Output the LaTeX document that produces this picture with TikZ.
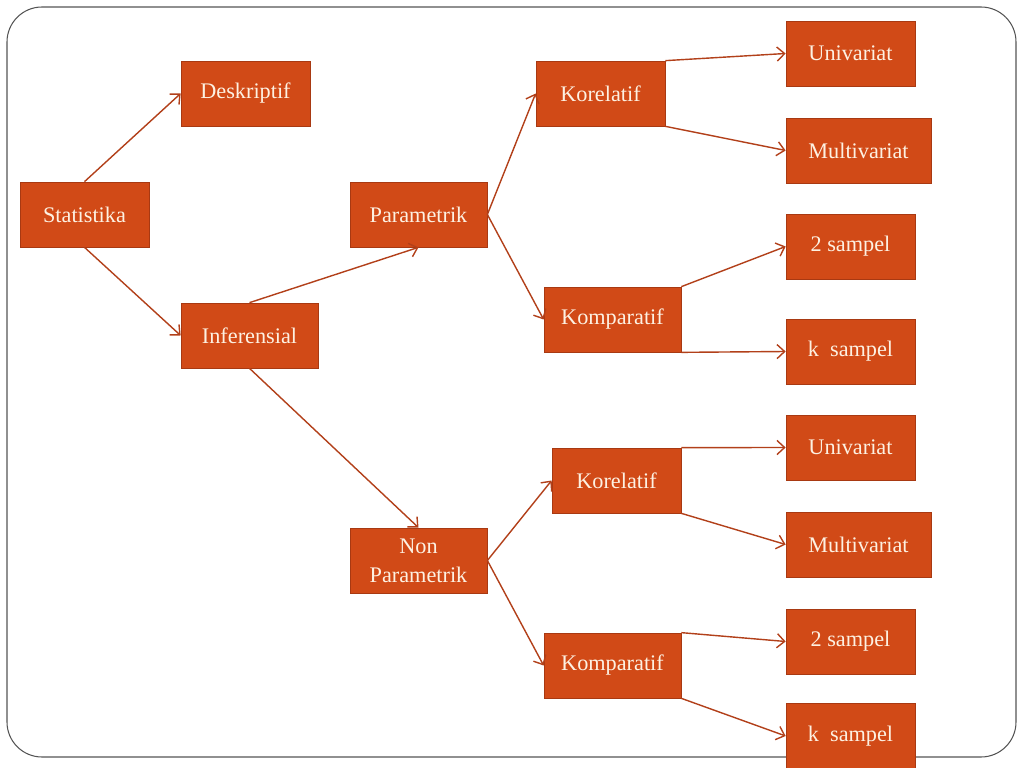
\documentclass[tikz,border=0pt]{standalone}
\usepackage{fontspec}
\setmainfont{Liberation Serif}
\usetikzlibrary{arrows.meta}
\definecolor{boxfill}{RGB}{209,74,23}
\definecolor{boxline}{RGB}{168,57,18}
\definecolor{arrline}{RGB}{178,64,26}
\definecolor{boxtext}{RGB}{253,241,226}
\definecolor{framegray}{RGB}{85,85,85}

\begin{document}
\begin{tikzpicture}[x=0.03cm, y=-0.03cm,
        catbox/.style={rectangle, draw=boxline, fill=boxfill, line width=0.6pt,
                       text=boxtext, minimum width=3.87cm, minimum height=1.95cm,
                       inner sep=0pt, align=center, font=\fontsize{19}{25}\selectfont},
        widebox/.style={minimum width=4.11cm},
        widerbox/.style={minimum width=4.35cm},
        arr/.style={-{Straight Barb[length=6.5pt,width=12pt]}, line width=1.2pt, arrline}
      ]
        \useasboundingbox (0,0) rectangle (1024,768);
        % slide frame
        \draw[framegray, line width=0.9pt, rounded corners=1.05cm] (7,7) rectangle (1016,757);

        % first level
        \node[catbox]           (stat) at (84.5,214.5)  {Statistika};
        \node[catbox]           (desk) at (245.5,93.5)  {Deskriptif};
        \node[catbox, widebox]  (inf)  at (249.5,335.5) {Inferensial};
        \node[catbox, widebox]  (par)  at (418.5,214.5) {Parametrik};
        \node[catbox, widebox]  (npar) at (418.5,560.5) {Non\\Parametrik};

        \draw[arr] (stat.north) -- (desk.west);
        \draw[arr] (stat.south) -- (inf.west);
        \draw[arr] (inf.north)  -- (par.south);
        \draw[arr] (inf.south)  -- (npar.north);

        % parametrik branch
        \node[catbox]           (kor1) at (600.5,93.5)  {Korelatif};
        \node[catbox, widebox]  (kom1) at (612.5,319.5) {Komparatif};
        \node[catbox]           (uni1) at (850.5,53.5)  {Univariat};
        \node[catbox, widerbox] (mul1) at (858.5,150.5) {Multivariat};
        \node[catbox]           (two1) at (850.5,246.5) {2 sampel};
        \node[catbox]           (ks1)  at (850.5,351.5) {k~~sampel};

        \draw[arr] (par.east) -- (kor1.west);
        \draw[arr] (par.east) -- (kom1.west);
        \draw[arr] (kor1.north east) -- (uni1.west);
        \draw[arr] (kor1.south east) -- (mul1.west);
        \draw[arr] (kom1.north east) -- (two1.west);
        \draw[arr] (kom1.south east) -- (ks1.west);

        % non parametrik branch
        \node[catbox]           (kor2) at (616.5,480.5) {Korelatif};
        \node[catbox, widebox]  (kom2) at (612.5,665.5) {Komparatif};
        \node[catbox]           (uni2) at (850.5,447.5) {Univariat};
        \node[catbox, widerbox] (mul2) at (858.5,544.5) {Multivariat};
        \node[catbox]           (two2) at (850.5,641.5) {2 sampel};
        \node[catbox]           (ks2)  at (850.5,736)   {k~~sampel};

        \draw[arr] (npar.east) -- (kor2.west);
        \draw[arr] (npar.east) -- (kom2.west);
        \draw[arr] (kor2.north east) -- (uni2.west);
        \draw[arr] (kor2.south east) -- (mul2.west);
        \draw[arr] (kom2.north east) -- (two2.west);
        \draw[arr] (kom2.south east) -- (ks2.west);
      \end{tikzpicture}
\end{document}
